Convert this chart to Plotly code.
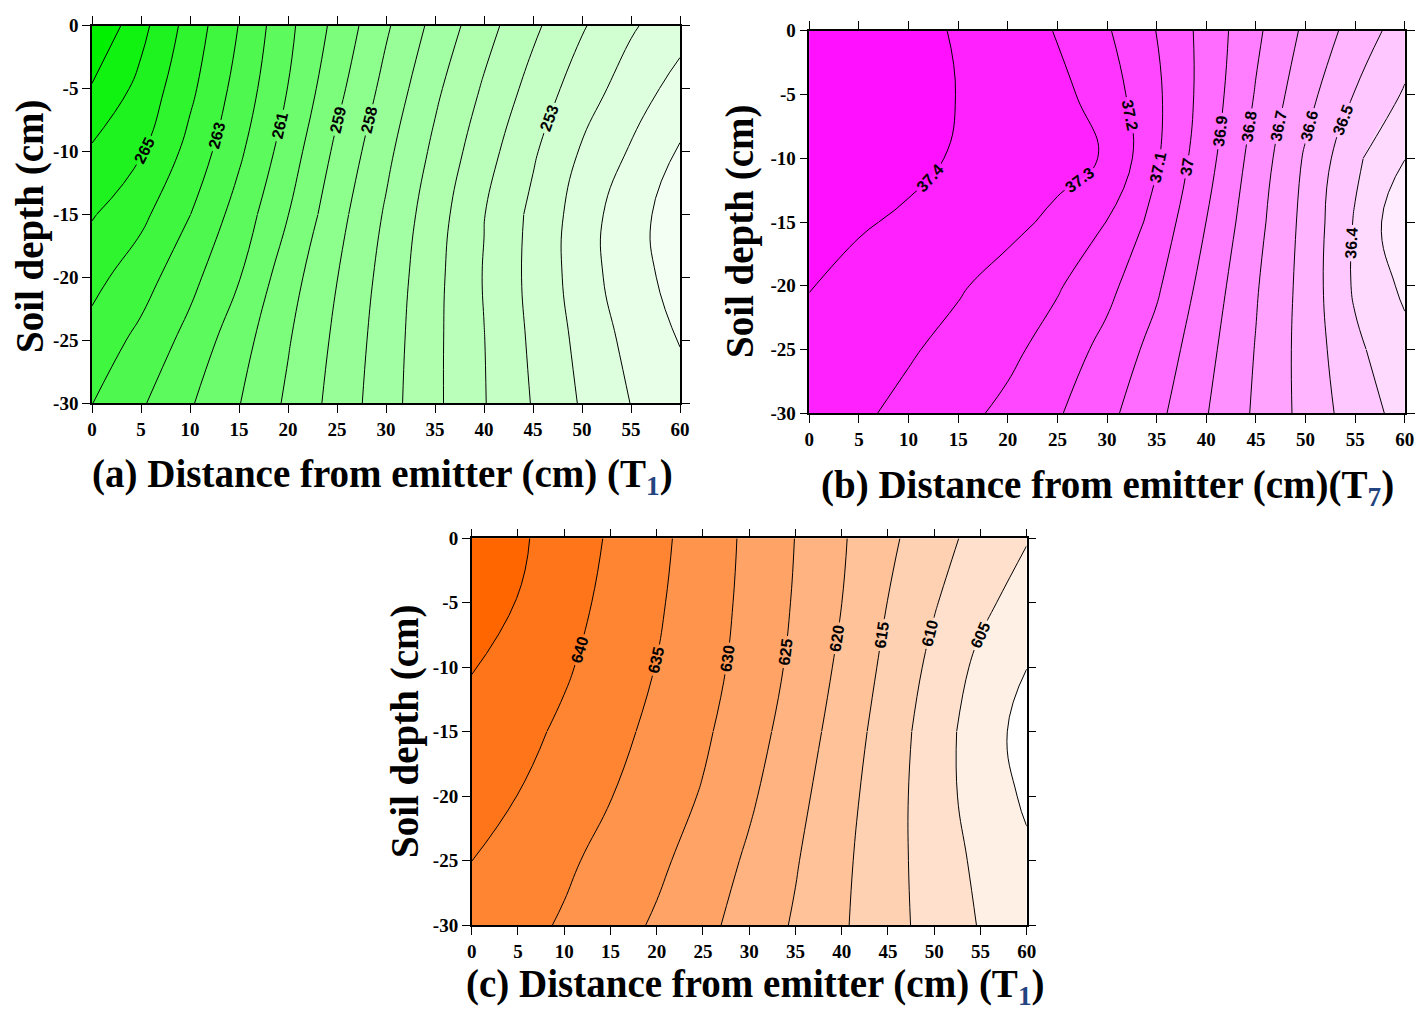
import plotly.graph_objects as go

# ---------------- data ----------------
x_cm = [0, 5, 10, 15, 20, 25, 30, 35, 40, 45, 50, 55, 60]
depth_cm = [0, -5, -10, -15, -20, -25, -30]

x_tick_vals = [0, 5, 10, 15, 20, 25, 30, 35, 40, 45, 50, 55, 60]
y_tick_vals = [-30, -25, -20, -15, -10, -5, 0]
y_tick_text = ["-30", "-25", "-20", "-15", "-10", "-5", "0"]

# (a) T1 - rows from depth 0 down to -30
panel_a = [
    [268.0, 266.3, 264.6, 262.97, 261.24, 259.7, 258.14, 256.7, 255.38, 254.2, 253.1, 252.12, 251.4],
    [266.91, 265.71, 264.22, 262.63, 260.98, 259.28, 257.69, 256.2, 254.88, 253.65, 252.48, 251.54, 250.61],
    [265.86, 265.08, 263.69, 262.18, 260.52, 258.78, 257.24, 255.78, 254.41, 253.13, 251.9, 250.9, 249.9],
    [265.08, 264.24, 263.02, 261.59, 260.02, 258.35, 256.88, 255.43, 254.03, 252.76, 251.54, 250.3, 249.6],
    [264.31, 263.44, 262.3, 261.05, 259.43, 258.02, 256.64, 255.27, 253.95, 252.71, 251.52, 250.32, 249.7],
    [263.63, 262.73, 261.67, 260.42, 259.08, 257.79, 256.5, 255.21, 254.02, 252.82, 251.72, 250.7, 249.95],
    [263.02, 262.12, 261.1, 260.04, 258.83, 257.63, 256.41, 255.2, 254.05, 252.94, 251.9, 250.98, 250.4],
]
# (b) T7
panel_b = [
    [37.45, 37.45, 37.435, 37.39, 37.345, 37.295, 37.21, 37.098, 36.965, 36.82, 36.68, 36.56, 36.45],
    [37.45, 37.45, 37.435, 37.398, 37.36, 37.33, 37.25, 37.118, 36.96, 36.793, 36.635, 36.495, 36.39],
    [37.45, 37.445, 37.425, 37.39, 37.36, 37.33, 37.293, 37.111, 36.937, 36.759, 36.5875, 36.419, 36.302],
    [37.43, 37.41, 37.385, 37.355, 37.325, 37.28, 37.198, 37.065, 36.899, 36.733, 36.57, 36.391, 36.22],
    [37.403, 37.37, 37.34, 37.31, 37.265, 37.21, 37.127, 37.015, 36.862, 36.709, 36.564, 36.385, 36.28],
    [37.375, 37.345, 37.31, 37.27, 37.225, 37.155, 37.07, 36.965, 36.83, 36.695, 36.562, 36.42, 36.33],
    [37.35, 37.315, 37.275, 37.23, 37.175, 37.11, 37.025, 36.925, 36.805, 36.685, 36.568, 36.45, 36.365],
]
# (c) T1
panel_c = [
    [649.0, 645.8, 642.66, 639.47, 636.18, 632.71, 629.02, 624.91, 620.53, 616.07, 611.94, 608.29, 605.3],
    [646.9, 644.88, 641.83, 638.75, 635.63, 632.33, 628.75, 624.55, 620.02, 614.91, 610.36, 606.23, 602.7],
    [645.2, 642.94, 640.61, 637.82, 634.88, 631.79, 628.22, 623.87, 619.02, 613.73, 608.7, 603.77, 600.05],
    [643.47, 641.4, 639.16, 636.53, 633.76, 630.82, 627.1, 622.78, 617.87, 612.65, 607.5, 602.35, 598.3],
    [641.74, 639.95, 637.55, 635.14, 632.45, 629.62, 625.77, 621.55, 616.8, 612.09, 607.35, 602.68, 599.3],
    [640.02, 637.92, 635.83, 633.5, 631.02, 627.86, 624.23, 620.38, 616.05, 611.83, 607.7, 603.93, 600.8],
    [638.3, 636.47, 634.5, 632.0, 629.38, 626.3, 622.99, 619.46, 615.62, 611.77, 608.15, 604.7, 601.6],
]

# contour levels and which of them carry a label
levels_a = [250, 251, 252, 253, 254, 255, 256, 257, 258, 259, 260, 261, 262, 263, 264, 265, 266, 267]
labels_a = [265, 263, 261, 259, 258, 253]
levels_b = [36.3, 36.4, 36.5, 36.6, 36.7, 36.8, 36.9, 37.0, 37.1, 37.2, 37.3, 37.4]
labels_b = [36.4, 36.5, 36.6, 36.7, 36.8, 36.9, 37.0, 37.1, 37.2, 37.3, 37.4]
levels_c = [600, 605, 610, 615, 620, 625, 630, 635, 640, 645]
labels_c = [605, 610, 615, 620, 625, 630, 635, 640]

# ---------------- figure ----------------
W, H = 1416, 1011
OFF = 0
# plot boxes in screen pixels (left, right, top, bottom)
box_a = (92, 680, 25.7, 403)
box_b = (809.3, 1404.8, 30.7, 413.3)
box_c = (471.7, 1026.7, 538.3, 925)

fig = go.Figure()
layout = {}
label_font = dict(family="Liberation Sans", size=16, color="black", weight="bold")
SMOOTH = 1.3
NR = len(depth_cm) - 1


def xdom(box):
    return [(box[0] - OFF) / W, (box[1] - OFF) / W]


def ypix(box, d):
    return box[2] + (-d) / 30.0 * (box[3] - box[2])


def ydom(box, d_top, d_bot):
    return [1 - (ypix(box, d_bot) - OFF) / H, 1 - (ypix(box, d_top) - OFF) / H]


def filled(z, lv, scale, xa, ya):
    return go.Contour(
        x=x_cm, y=depth_cm[::-1], z=z[::-1],
        autocontour=False,
        contours=dict(start=lv[0], end=lv[-1], size=lv[1] - lv[0], coloring="fill", showlabels=False),
        line=dict(color="rgba(0,0,0,0)", width=0, smoothing=SMOOTH),
        colorscale=scale, showscale=False, hoverinfo="skip",
        xaxis=xa, yaxis=ya,
    )


def piece(z, level, r0, r1, show, xa, ya):
    rows = list(range(r0, r1 + 1))[::-1]
    return go.Contour(
        x=x_cm, y=[depth_cm[r] for r in rows], z=[z[r] for r in rows],
        autocontour=False,
        contours=dict(start=level, end=level, size=1, coloring="none", showlabels=show,
                      labelfont=label_font, labelformat=".3~g"),
        line=dict(color="black", width=1, smoothing=SMOOTH),
        showscale=False, hoverinfo="skip", xaxis=xa, yaxis=ya,
    )


hidden = dict(showline=False, showticklabels=False, ticks="", showgrid=False,
              zeroline=False, fixedrange=True)
sub_axes = {}
next_id = [4]


def label_axes(box, r0, r1):
    key = (box, r0, r1)
    if key not in sub_axes:
        n = next_id[0]
        next_id[0] += 1
        layout["xaxis%d" % n] = dict(domain=xdom(box), range=[0, 60], anchor="y%d" % n, **hidden)
        layout["yaxis%d" % n] = dict(domain=ydom(box, depth_cm[r0], depth_cm[r1]),
                                     range=[depth_cm[r1], depth_cm[r0]], anchor="x%d" % n, **hidden)
        sub_axes[key] = ("x%d" % n, "y%d" % n)
    return sub_axes[key]


def add_lines(z, levels, labelled, box, xa, ya, special=None):
    special = special or {}
    for lv in levels:
        if lv in labelled:
            r0, r1 = special.get(lv, (0, 3))
            sx, sy = label_axes(box, r0, r1)
            fig.add_trace(piece(z, lv, r0, r1, True, sx, sy))
            if r0 > 0:
                fig.add_trace(piece(z, lv, 0, r0, False, xa, ya))
            if r1 < NR:
                fig.add_trace(piece(z, lv, r1, NR, False, xa, ya))
        else:
            fig.add_trace(piece(z, lv, 0, NR, False, xa, ya))


fig.add_trace(filled(panel_a, levels_a, [[0, "#f4fff4"], [0.5, "#8cff8c"], [1, "#00f000"]], "x", "y"))
add_lines(panel_a, levels_a, labels_a, box_a, "x", "y")

fig.add_trace(filled(panel_b, levels_b, [[0, "#ffecff"], [1, "#ff10ff"]], "x2", "y2"))
add_lines(panel_b, levels_b, labels_b, box_b, "x2", "y2", special={36.4: (2, 5)})

fig.add_trace(filled(panel_c, levels_c, [[0, "#ffffff"], [1, "#ff6600"]], "x3", "y3"))
add_lines(panel_c, levels_c, labels_c, box_c, "x3", "y3")

tick_font = dict(family="Liberation Serif", size=19, color="black", weight="bold")
axis_style = dict(showline=True, linecolor="black", linewidth=1.5, mirror="ticks",
                  ticks="outside", ticklen=8, tickwidth=1.3, tickcolor="black",
                  showgrid=False, zeroline=False, tickfont=tick_font, automargin=False)


def xax(box, anchor):
    return dict(domain=xdom(box), anchor=anchor, range=[0, 60],
                tickmode="array", tickvals=x_tick_vals, **axis_style)


def yax(box, anchor):
    return dict(domain=ydom(box, 0, -30), anchor=anchor, range=[-30, 0],
                tickmode="array", tickvals=y_tick_vals, ticktext=y_tick_text, **axis_style)


title_font = dict(family="Liberation Serif", size=39, color="black", weight="bold")
sub_col = "#24447f"


def ann(text, xp, yp, angle=0):
    return dict(text=text, x=(xp - OFF) / W, y=1 - (yp - OFF) / H, xref="paper", yref="paper",
                showarrow=False, textangle=angle, font=title_font,
                xanchor="center", yanchor="middle")


layout.update(
    xaxis=xax(box_a, "y"), yaxis=yax(box_a, "x"),
    xaxis2=xax(box_b, "y2"), yaxis2=yax(box_b, "x2"),
    xaxis3=xax(box_c, "y3"), yaxis3=yax(box_c, "x3"),
)

fig.update_layout(
    template="none",
    width=W, height=H, margin=dict(l=0, r=0, t=0, b=0, pad=0),
    paper_bgcolor="white", plot_bgcolor="rgba(0,0,0,0)", showlegend=False,
    annotations=[
        ann("(a) Distance from emitter (cm) (T<sub><span style='color:%s'>1</span></sub>)" % sub_col, 382, 477),
        ann("(b) Distance from emitter (cm)(T<sub><span style='color:%s'>7</span></sub>)" % sub_col, 1107, 488),
        ann("(c) Distance from emitter (cm) (T<sub><span style='color:%s'>1</span></sub>)" % sub_col, 755, 986),
        ann("Soil depth (cm)", 30, 226, -90),
        ann("Soil depth (cm)", 740, 231, -90),
        ann("Soil depth (cm)", 405, 731, -90),
    ],
    **layout,
)

fig.write_html("out.html", config={"displayModeBar": False},
               post_script="document.body.style.margin='0px';")
